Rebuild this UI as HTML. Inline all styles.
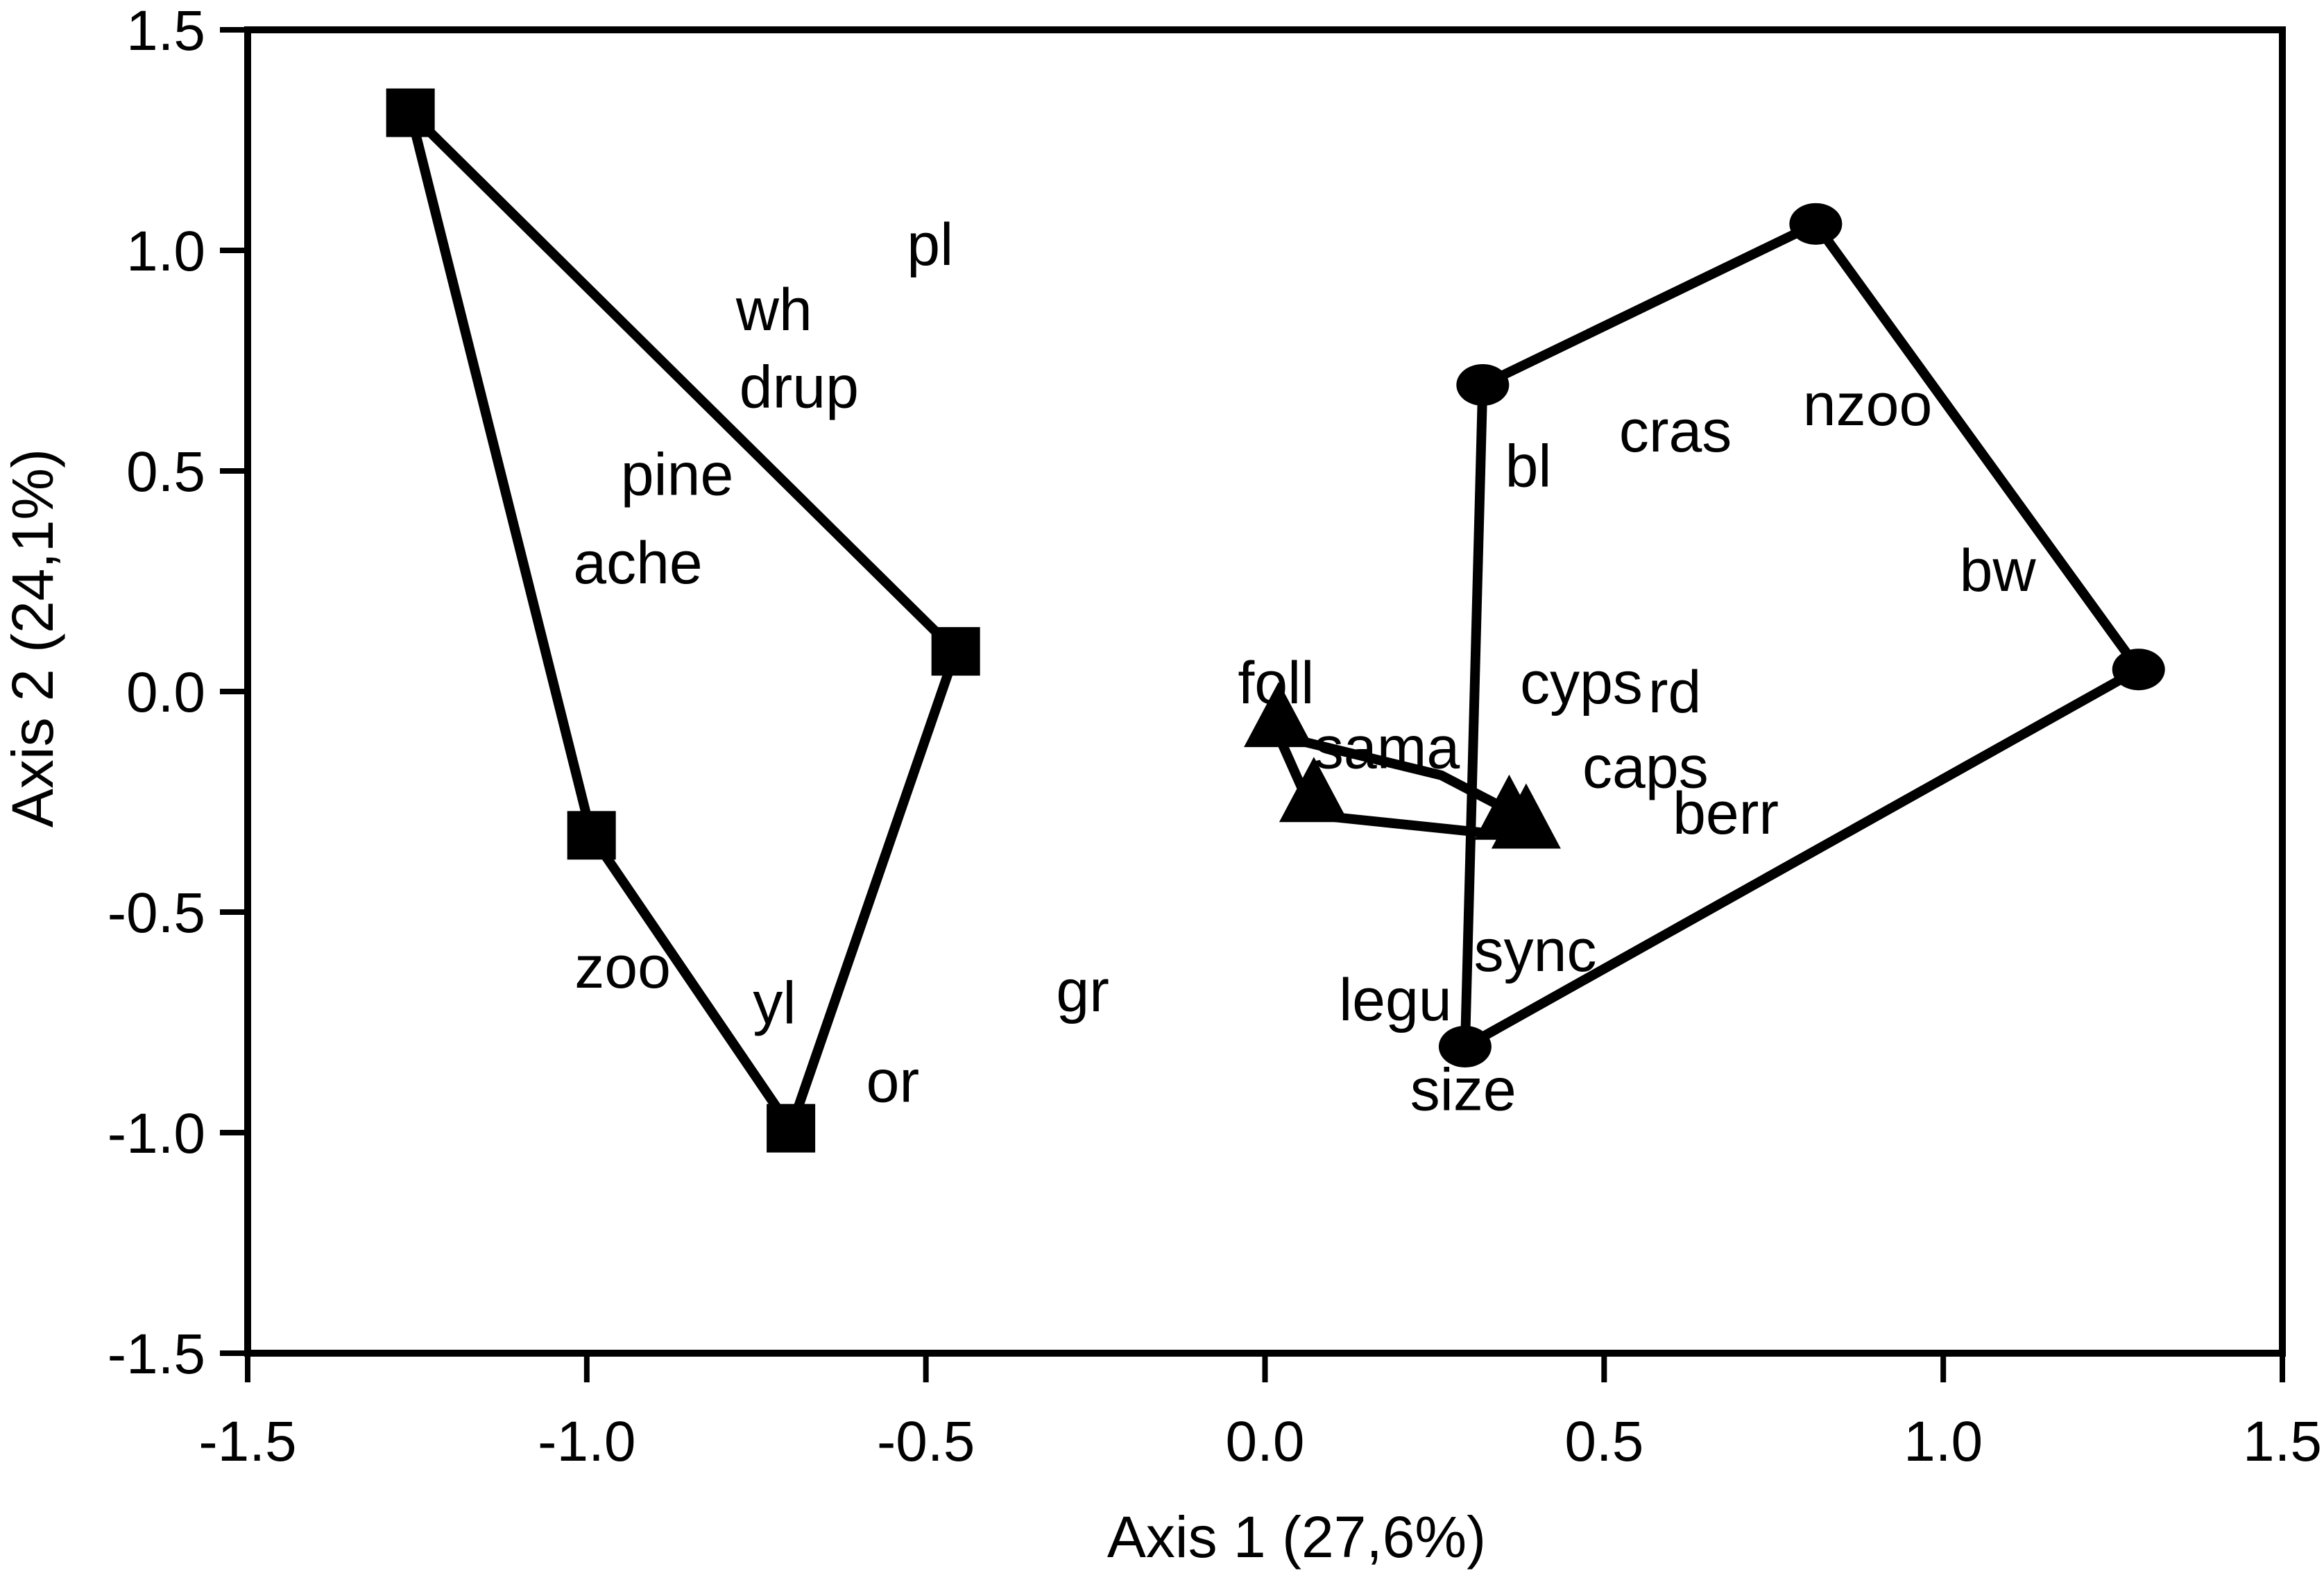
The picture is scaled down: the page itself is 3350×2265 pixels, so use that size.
<!DOCTYPE html>
<html><head><meta charset="utf-8"><style>
html,body{margin:0;padding:0;background:#fff;}
svg{display:block;font-family:"Liberation Sans",Arial,sans-serif;}
</style></head><body>
<svg id="chart" width="3350" height="2265" viewBox="0 0 3350 2265" xmlns="http://www.w3.org/2000/svg">
<g id="axes"></g>
<g id="series"></g>
<g id="labels"></g>
<text x="1869" y="2245" font-size="84" text-anchor="middle">Axis 1 (27,6%)</text>
<text x="0" y="0" font-size="84" text-anchor="middle" transform="translate(76,920) rotate(-90)">Axis 2 (24,1%)</text>
</svg>
<script>
const xTicks = [-1.5,-1.0,-0.5,0.0,0.5,1.0,1.5];
const yTicks = [1.5,1.0,0.5,0.0,-0.5,-1.0,-1.5];
const xTickLabels = ["-1.5","-1.0","-0.5","0.0","0.5","1.0","1.5"];
const yTickLabels = ["1.5","1.0","0.5","0.0","-0.5","-1.0","-1.5"];
const squaresX = [-1.26,-0.456,-0.699,-0.993];
const squaresY = [1.312,0.091,-0.99,-0.326];
const circlesX = [0.321,0.812,1.288,0.295];
const circlesY = [0.695,1.06,0.05,-0.805];
const trianglesX = [0.02,0.072,0.36,0.385];
const trianglesY = [-0.06,-0.23,-0.27,-0.29];
const triPathX = [0.02,0.26,0.36,0.385,0.072,0.02];
const triPathY = [-0.10,-0.19,-0.27,-0.33,-0.28,-0.10];
const labelNames = ["pl","wh","drup","pine","ache","zoo","yl","or","gr","foll","sama","cyps","rd","caps","berr","sync","legu","size","bl","cras","nzoo","bw"];
const labelX = [-0.528,-0.78,-0.775,-0.95,-1.02,-1.018,-0.755,-0.588,-0.308,-0.04,0.072,0.376,0.565,0.468,0.601,0.308,0.109,0.214,0.354,0.522,0.793,1.024];
const labelY = [0.967,0.819,0.644,0.446,0.245,-0.671,-0.752,-0.93,-0.725,-0.027,-0.174,-0.027,-0.047,-0.218,-0.322,-0.634,-0.745,-0.949,0.465,0.544,0.604,0.228];

const NS="http://www.w3.org/2000/svg";
const X0=357,X1=3290,Y0=43,Y1=1951;
const sx=v=>X0+(v+1.5)/3*(X1-X0);
const sy=v=>Y0+(1.5-v)/3*(Y1-Y0);
function mk(tag,attrs,parent){const e=document.createElementNS(NS,tag);for(const k in attrs)e.setAttribute(k,attrs[k]);parent.appendChild(e);return e;}
const axes=document.getElementById('axes'),series=document.getElementById('series'),labels=document.getElementById('labels');

const frame=mk('rect',{x:X0,y:Y0,width:X1-X0,height:Y1-Y0,fill:'none',stroke:'#000','stroke-width':10},axes);


xTicks.forEach((t,i)=>{
  const l=mk('line',{x1:sx(t),x2:sx(t),y1:Y1,y2:Y1+42,stroke:'#000','stroke-width':8},axes);
  
  
  const tx=mk('text',{x:sx(t),y:2106,'font-size':82,'text-anchor':'middle'},axes);
  tx.textContent=xTickLabels[i];
  
  
});
yTicks.forEach((t,i)=>{
  const l=mk('line',{x1:X0-40,x2:X0,y1:sy(t),y2:sy(t),stroke:'#000','stroke-width':8},axes);
  
  
  const tx=mk('text',{x:296,y:sy(t)+29,'font-size':82,'text-anchor':'end'},axes);
  tx.textContent=yTickLabels[i];
  
  
});

function poly(xs,ys,name){
  const pts=xs.map((x,i)=>sx(x)+','+sy(ys[i])).join(' ');
  const p=mk('polygon',{points:pts,fill:'none',stroke:'#000','stroke-width':14,'stroke-linejoin':'round'},series);
  
  
}
poly(squaresX,squaresY,'square-group-hull');
poly(circlesX,circlesY,'circle-group-hull');
const tp=mk('polyline',{points:triPathX.map((x,i)=>sx(x)+','+sy(triPathY[i])).join(' '),fill:'none',stroke:'#000','stroke-width':14,'stroke-linejoin':'round'},series);



squaresX.forEach((x,i)=>{
  const r=mk('rect',{x:sx(x)-35,y:sy(squaresY[i])-35,width:70,height:70,fill:'#000'},series);
  
  
});
circlesX.forEach((x,i)=>{
  const c=mk('ellipse',{cx:sx(x),cy:sy(circlesY[i]),rx:38,ry:30,fill:'#000'},series);
  
  
});
trianglesX.forEach((x,i)=>{
  const cx=sx(x),cy=sy(trianglesY[i]);
  const t=mk('polygon',{points:`${cx},${cy-52} ${cx-50},${cy+42} ${cx+50},${cy+42}`,fill:'#000'},series);
  
  
});

labelNames.forEach((n,i)=>{
  const t=mk('text',{x:sx(labelX[i]),y:sy(labelY[i]),'font-size':86},labels);
  t.textContent=n;
  
  
});
</script>
</body></html>
